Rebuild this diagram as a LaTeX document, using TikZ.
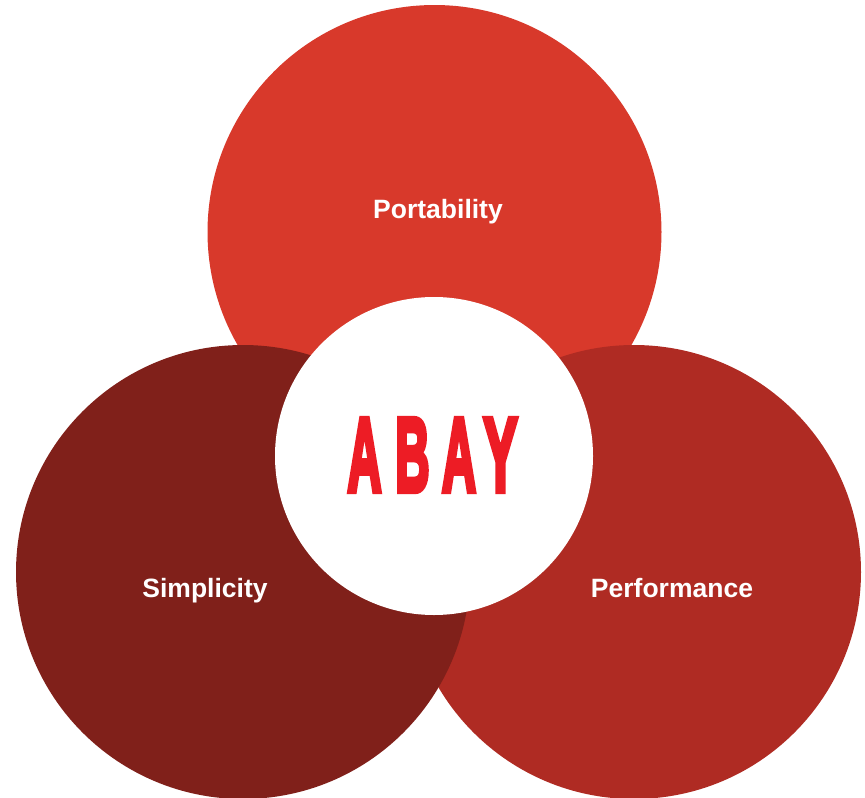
\documentclass[tikz,border=0pt]{standalone}
\usepackage{fontspec}
\usepackage{graphicx}
\setmainfont{Liberation Sans}
\newfontfamily\logofont[FakeBold=6]{Liberation Sans Bold}
\definecolor{topred}{RGB}{216,57,43}
\definecolor{leftred}{RGB}{128,32,26}
\definecolor{rightred}{RGB}{175,43,35}
\definecolor{logored}{RGB}{237,28,37}
\tikzset{
  petal/.style={circle, minimum size=454pt, inner sep=0pt, draw=none},
  label/.style={text=white, anchor=base, font=\fontsize{26.5}{30}\selectfont\bfseries},
  logoletter/.style={text=logored, inner sep=0pt, font=\logofont}
}
\newcommand{\logoltr}[1]{\resizebox{34pt}{72pt}{#1}}
\begin{document}
\begin{tikzpicture}[x=1pt,y=-1pt]
\useasboundingbox (0,0) rectangle (865,798);
\node[petal, fill=topred] (top) at (434.5,232) {};
\node[petal, fill=rightred] (right) at (634,572) {};
\node[petal, fill=leftred] (left) at (243,572) {};
\node[circle, minimum size=318pt, inner sep=0pt, fill=white] (hub) at (434,456) {};
\node[label] (tlabel) at (438,218) {Portability};
\node[label] (llabel) at (205,597) {Simplicity};
\node[label] (rlabel) at (672,597) {Performance};
\node[logoletter] (l1) at (364.5,455) {\logoltr{A}};
\node[logoletter] (l2) at (412.5,455) {\logoltr{B}};
\node[logoletter] (l3) at (459,455) {\logoltr{A}};
\node[logoletter] (l4) at (500.5,455) {\logoltr{Y}};
\end{tikzpicture}
\end{document}
